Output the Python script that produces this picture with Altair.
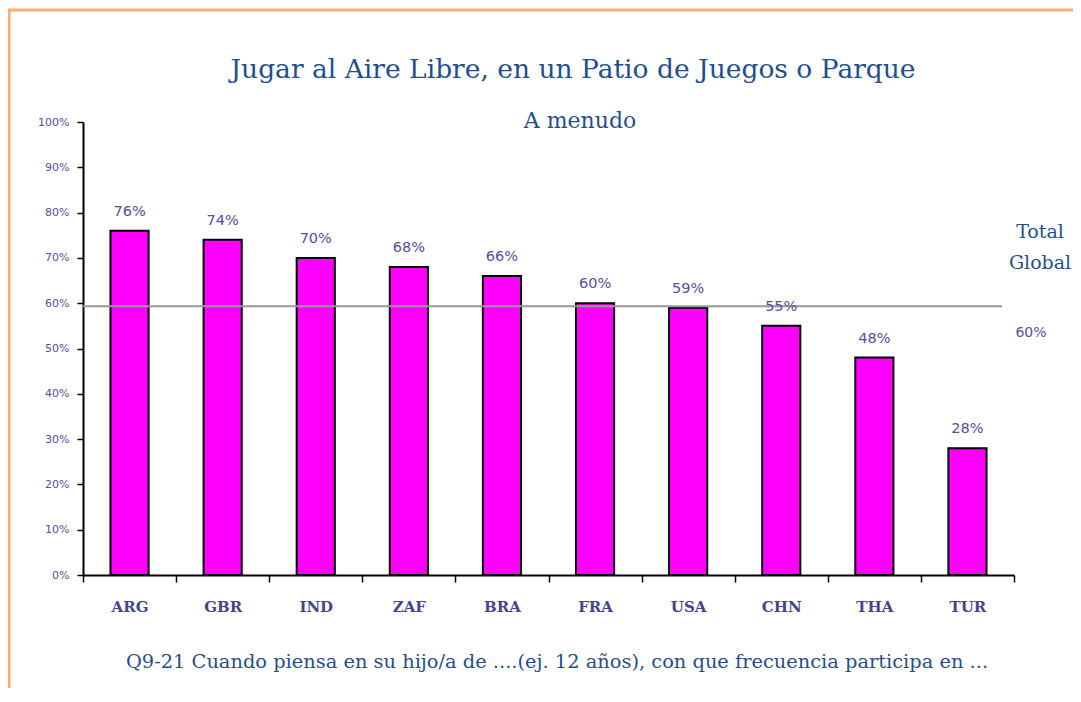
import altair as alt
import pandas as pd

countries = ["ARG", "GBR", "IND", "ZAF", "BRA", "FRA", "USA", "CHN", "THA", "TUR"]
values = [0.76, 0.74, 0.70, 0.68, 0.66, 0.60, 0.59, 0.55, 0.48, 0.28]
global_total = [0.593]
global_label = ["60%"]
title_text = "Jugar al Aire Libre, en un Patio de Juegos o Parque"
subtitle_text = "A menudo"
footnote_text = "Q9-21  Cuando piensa en su hijo/a de ....(ej. 12 años), con que frecuencia participa en ..."
legend_lines = ["Total", "Global"]

W, H = 931, 453
df = pd.DataFrame({"pais": countries, "valor": values})
ref = pd.DataFrame({"valor": global_total, "lab": global_label})

serif = "DejaVu Serif"
sans = "DejaVu Sans"
blue = "#1f4f8f"
slate = "#5050a4"

xenc = alt.X("pais:N", sort=None, title=None,
             scale=alt.Scale(paddingInner=0, paddingOuter=0),
             axis=alt.Axis(labelFont=serif, labelFontSize=15, labelFontWeight="bold",
                           labelColor="#45458f",
                           labelPadding=17, labelAngle=0, tickBand="extent",
                           tickSize=7, tickWidth=1.5, tickColor="black",
                           domainColor="black", domainWidth=2))
yenc = alt.Y("valor:Q", title=None,
             scale=alt.Scale(domain=[0, 1], nice=False),
             axis=alt.Axis(format=".0%", values=[i / 10 for i in range(11)],
                           labelFont=sans, labelFontSize=11, labelColor=slate,
                           labelPadding=8, tickSize=6, tickWidth=1.5, tickColor="black",
                           domainColor="black", domainWidth=2, grid=False))

bars = alt.Chart(df).mark_bar(color="#ff00ff", stroke="black", strokeWidth=2,
                              width=alt.RelativeBandSize(0.41)).encode(x=xenc, y=yenc)

labels = alt.Chart(df).mark_text(font=sans, fontSize=14.5, color=slate, baseline="bottom", dy=-12).encode(
    x=alt.X("pais:N", sort=None), y="valor:Q", text=alt.Text("valor:Q", format=".0%"))

rule = alt.Chart(ref).mark_rule(color="#999999", strokeWidth=2).encode(
    y="valor:Q", x=alt.value(0), x2=alt.value(919))

reflab = alt.Chart(ref).mark_text(font=sans, fontSize=14, color=slate).encode(
    text="lab:N", x=alt.value(948), y=alt.value(211))

def txt(t, x, y, size, color=blue, font=serif):
    return alt.Chart(pd.DataFrame({"t": [t]})).mark_text(
        font=font, fontSize=size, color=color, align="center", baseline="middle"
    ).encode(text="t:N", x=alt.value(x), y=alt.value(y))

title = txt(title_text, 490, -52, 26.5)
subtitle = txt(subtitle_text, 497, -1, 22)
footnote = txt(footnote_text, 474, 540, 19.4)
tot = txt(legend_lines[0], 957, 110, 19)
glob = txt(legend_lines[1], 957, 141, 19)

border = alt.Chart(pd.DataFrame({"a": [0]})).mark_rect(
    fill=None, stroke="#fbae6e", strokeWidth=3
).encode(x=alt.value(-74), x2=alt.value(1200), y=alt.value(-112), y2=alt.value(800))

chart = alt.layer(border, bars, rule, labels, reflab, title, subtitle, footnote, tot, glob).properties(
    width=W, height=H,
    autosize=alt.AutoSizeParams(type="none"),
    padding={"left": 75, "top": 114, "right": 59, "bottom": 113},
).configure_view(stroke=None)

chart.save("out.html", embed_options={"renderer": "svg", "actions": False})
